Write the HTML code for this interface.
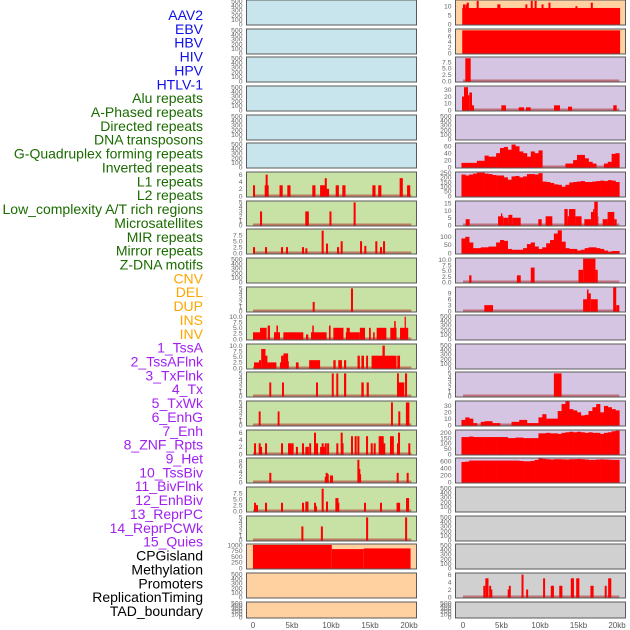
<!DOCTYPE html>
<html><head><meta charset="utf-8"><style>
html,body{margin:0;padding:0;background:#fff;}
svg{display:block;font-family:"Liberation Sans",sans-serif;}
</style></head><body>
<svg id="chart" width="630" height="630" viewBox="0 0 630 630"></svg>
<script>
// ---------- legend labels ----------
const legendLabels = ["AAV2","EBV","HBV","HIV","HPV","HTLV-1","Alu repeats","A-Phased repeats","Directed repeats","DNA transposons","G-Quadruplex forming repeats","Inverted repeats","L1 repeats","L2 repeats","Low_complexity A/T rich regions","Microsatellites","MIR repeats","Mirror repeats","Z-DNA motifs","CNV","DEL","DUP","INS","INV","1_TssA","2_TssAFlnk","3_TxFlnk","4_Tx","5_TxWk","6_EnhG","7_Enh","8_ZNF_Rpts","9_Het","10_TssBiv","11_BivFlnk","12_EnhBiv","13_ReprPC","14_ReprPCWk","15_Quies","CPGisland","Methylation","Promoters","ReplicationTiming","TAD_boundary"];
const legendGroups = [6,13,5,15,5];
const xTicks = [0,5,10,15,20];
const xTickLabels = ["0","5kb","10kb","15kb","20kb"];

// ---------- left column data ----------
const L_L1 = [[0,3],[1.5,3],[1.62,6],[1.75,3],[3.4,3],[3.55,3],[4.4,3],[4.55,3],[7.6,3],[7.75,3],[8.6,3],[8.75,3],[8.9,3],[9.05,3],[9.2,5],[9.35,2],[9.5,2],[10.6,3],[10.75,3],[11.45,3],[11.6,3],[15.3,3],[15.45,3],[16.05,3],[16.2,3],[18.8,5],[18.95,5],[19.75,3],[19.9,3]];
const L_L2 = [[0.9,3],[6.7,3],[6.9,3],[9.8,3],[12.9,5]];
const L_LowCx = [[0,2.5],[1.54,2.5],[3.59,2.5],[4.23,2.5],[6.28,2.5],[6.71,2],[8.8,9.5],[9.36,4],[10.77,2.5],[11.24,5],[13.72,5],[14.27,3],[15.68,5],[16.28,2.5],[16.67,5]];
const L_MIR = [[7.65,2],[12.56,5]];
const L_Mirror = [[0,0.9,3],[0.9,1.75,5],[1.88,2.18,6],[2.69,3.46,3],[3.0,3.2,6],[3.89,6.45,3],[6.79,7.09,2],[7.44,9.44,3],[7.6,7.8,6],[9.74,9.95,6],[10.3,11.6,5],[11.9,13.7,3],[12.0,12.4,5],[13.7,14.36,5],[14.87,15.1,5],[15.4,15.6,3],[15.85,17.1,5],[17.6,18.4,5],[18.1,18.3,8],[18.85,19.9,5],[19.44,19.6,10]];
const L_TssA = [[0.13,0.9,2.5],[0.77,1.05,3.5],[1.05,1.6,8.5],[1.6,1.85,5.5],[1.85,3.0,2.5],[3.45,3.9,2.5],[3.6,3.9,5.5],[3.9,4.5,6.5],[4.5,4.6,3],[5.5,5.85,2.5],[7.2,8.6,3.5],[10.3,10.6,3.5],[10.93,11.4,3.5],[11.67,11.95,3.5],[13.4,13.7,5.5],[13.9,14.23,5.5],[14.5,14.75,5.5],[15.2,18.4,5.5],[16.6,16.9,10],[18.5,18.85,5.5]];
const L_TssAFlnk = [[2.09,2.34,3],[3.72,3.97,3],[8.08,8.33,3],[10.1,10.35,5],[10.68,10.93,5],[11.67,11.95,5],[13.89,14.2,3],[14.57,14.85,3],[18.46,18.7,5],[18.6,19.4,3],[19.49,19.75,5]];
const L_TxFlnk = [[0.73,0.98,3],[3.16,3.4,3],[17.69,17.94,5],[18.63,18.88,3],[19.6,20.05,5]];
const L_Tx = [[0.13,3],[0.73,3],[0.9,2],[1.54,3],[3.59,3],[4.49,3],[4.7,3],[4.95,3],[5.5,2],[6.28,3],[6.71,2],[6.9,2],[7.2,3],[7.82,6],[8.08,3],[8.6,2],[8.8,3],[9.0,2],[9.2,3],[9.5,3],[10.68,3],[11.24,6],[11.35,3],[12.56,5],[13.03,5],[13.38,5],[14.49,5],[15.09,3],[15.47,3],[16.11,5],[16.3,5],[16.5,5],[16.7,3],[17.56,5],[17.8,5],[18.46,3],[18.59,6],[19.91,3]];
const L_TxWk = [[2.09,3.5],[9.2,2],[9.32,3.5],[9.45,3],[9.87,2.5],[10.0,2.5],[13.38,8.5],[13.5,5],[13.6,3],[18.42,3.5],[19.7,3.5]];
const L_EnhG = [[0.13,3.5],[0.38,2.5],[1.54,3.5],[3.59,3.5],[6.28,3.5],[6.71,4],[6.85,4],[7.82,3.5],[7.95,2],[8.8,9.5],[9.36,4],[10.56,5.5],[10.7,5.5],[10.81,3.5],[14.23,3.5],[16.28,3.5],[18.4,3.5],[18.6,3.5],[19.62,5.5],[19.75,5.5]];
const L_Enh = [[6.2,3],[8.7,3],[14.5,5],[19.5,5]];
const L_CPG = [[0,10.1,1000],[10.1,14.2,820],[14.2,20.2,850]];

// ---------- right column data ----------
const R_AAV2_base = [[-0.1,20.4,9]];
const R_AAV2_spikes = [[0,11],[0.3,11],[0.5,12],[1.78,13],[4.46,11],[4.6,11],[8.1,11],[8.8,13],[9.3,13],[10.2,11],[11.1,12],[14.6,10],[16.6,12]];
const R_EBV = [[-0.1,20.4,8]];
const R_HBV = [[0.3,1.0,9]];
const R_HIV = [[-0.13,0.13,20],[0.13,0.65,34],[0.65,0.82,22],[0.82,1.17,26],[1.17,1.43,7],[4.98,5.58,7],[7.23,7.92,4],[8.18,8.79,4],[11.82,12.6,7],[13.64,14.16,5],[19.52,19.96,7]];
const R_HTLV = [12,12,12,12,18,18,33,30,30,40,55,58,50,65,60,45,40,30,45,40,48,0,0,0,0,0,0,10,10,20,35,35,25,15,10,0,0,10,15,38,40];
const R_L1 = [230,220,230,240,250,250,240,235,225,220,220,200,175,210,215,200,210,235,235,230,245,155,150,140,125,120,100,120,145,150,155,160,150,150,155,160,165,160,170,165,150];
const R_L2 = [[0.35,0.87,4],[4.55,5.24,6],[4.93,5.1,8],[5.24,5.89,5],[5.89,6.41,7],[6.41,7.49,5],[9.78,10.22,4],[10.73,11.6,6],[13.16,13.6,11],[13.6,13.77,6],[13.77,14.6,11],[14.6,15.4,6],[15.76,16.62,4],[16.62,17.05,9],[16.9,17.05,11],[17.05,17.5,16],[17.5,17.58,6],[18.14,18.78,4],[18.78,19.65,9],[19.65,19.96,4]];
const R_LowCx = [90,100,65,30,30,35,35,40,40,65,80,75,25,20,20,20,30,55,65,40,25,35,60,80,120,140,70,30,25,25,15,20,30,35,35,30,25,15,8,12,12];
const R_Micro = [[0.8,1.1,3],[7.0,7.5,3],[8.8,9.3,6.5],[15.0,15.6,5.5],[15.6,17.2,10.5],[17.2,17.5,5.5]];
const R_MIR = [[2.77,3.9,3],[15.6,16.3,6],[16.1,16.3,11],[16.3,16.6,9],[16.6,17.5,6],[19.5,19.9,12],[19.9,20.3,3]];
const R_DEL = [[11.8,12.8,5]];
const R_DUP = [8,12,10,3,0,5,6,6,3,3,0,0,0,5,5,8,8,3,3,3,12,17,10,10,10,22,33,37,25,23,20,15,16,22,28,33,20,30,28,25,23];
const R_INS = [160,160,165,160,160,160,160,160,160,160,160,160,150,150,155,155,150,150,150,150,195,195,200,195,195,190,200,205,210,205,210,205,200,205,200,200,190,200,205,215,220];
const R_INV = [580,590,620,620,620,620,620,620,620,620,620,620,620,620,620,610,600,600,610,640,680,670,660,650,660,660,655,650,660,660,665,660,650,640,640,650,655,650,645,640,640];
const R_Promoters = [[2.64,3],[2.9,5],[3.05,5],[3.4,3],[3.55,2],[5.8,2],[5.95,3],[7.6,6],[8.2,2],[10.4,5],[11.4,3],[11.55,3],[12.5,3],[12.65,3],[14.0,5],[14.15,5],[14.7,5],[14.85,5],[16.55,3],[16.7,3],[18.4,3],[18.85,5],[19.0,5]];

const T500 = [0,100,200,300,400,500];
const C = {blue:"rgb(200,228,236)",green:"rgb(200,225,165)",peach:"rgb(255,208,160)",lav:"rgb(213,197,226)",gray:"rgb(208,208,208)"};

const leftPanels = [
 ["blue",T500,520],["blue",T500,520],["blue",T500,520],["blue",T500,520],["blue",T500,520],["blue",T500,520],
 ["green",[0,2,4,6],6.6,L_L1,null,null,1],
 ["green",[0,1,2,3,4,5],5.2,L_L2,null,null,1],
 ["green",[0,2.5,5,7.5],10,L_LowCx,null,null,1],
 ["green",T500,520],
 ["green",[0,1,2,3,4,5],5.2,L_MIR,null,null,1],
 ["green",[0,2.5,5,7.5,10],10.5,null,L_Mirror,null,1],
 ["green",[0,2.5,5,7.5,10],10.5,null,L_TssA,null,1],
 ["green",[0,1,2,3,4,5],5.2,null,L_TssAFlnk,null,1],
 ["green",[0,1,2,3,4,5],5.2,null,L_TxFlnk,null,1],
 ["green",[0,2,4,6],6.6,L_Tx,null,null,1],
 ["green",[0,2,4,6,8],9,L_TxWk,null,null,1],
 ["green",[0,2.5,5,7.5],10,L_EnhG,null,null,1],
 ["green",[0,1,2,3,4,5],5.2,L_Enh,null,null,1],
 ["peach",[0,250,500,750,1000],1020,null,L_CPG],
 ["peach",T500,520],["peach",T500,520]
];
const rightPanels = [
 ["peach",[0,5,10],13.2,R_AAV2_spikes,R_AAV2_base],
 ["peach",[0,2,4,6,8],8.3,null,R_EBV],
 ["lav",[0,2.5,5,7.5],9.3,null,R_HBV,null,1],
 ["lav",[0,10,20,30],35,null,R_HIV,null,1],
 ["lav",T500,520],
 ["lav",[0,20,40,60],68,null,null,R_HTLV,1],
 ["lav",[0,50,100,150,200,250],252,null,null,R_L1],
 ["lav",[0,5,10,15],16.2,null,R_L2,null,1],
 ["lav",[0,50,100],145,null,null,R_LowCx,1],
 ["lav",[0,2.5,5,7.5,10],10.6,null,R_Micro,null,1],
 ["lav",[0,3,6,9],12,null,R_MIR,null,1],
 ["lav",T500,520],["lav",T500,520],
 ["lav",[0,1,2,3,4,5],5.2,null,R_DEL,null,1],
 ["lav",[0,10,20,30],37,null,null,R_DUP,1],
 ["lav",[0,50,100,150,200],222,null,null,R_INS],
 ["lav",[0,200,400,600],680,null,null,R_INV],
 ["gray",T500,520],["gray",T500,520],["gray",T500,520],
 ["gray",[0,2,4,6],6.3,R_Promoters,null,null,1],
 ["gray",T500,520]
];

const NS="http://www.w3.org/2000/svg";
const svg=document.getElementById('chart');
function mk(tag,attrs,parent){const e=document.createElementNS(NS,tag);for(const k in attrs)e.setAttribute(k,attrs[k]);(parent||svg).appendChild(e);return e;}

const groupColors=["#1010e8","#1a6b00","#ffa500","#a020f0","#000000"];
let gi=0,gc=0;
legendLabels.forEach((lab,i)=>{
  while(gc>=legendGroups[gi]){gi++;gc=0;}
  gc++;
  const t=mk('text',{x:203,y:15+i*13.86+5,'text-anchor':'end','font-size':14,fill:groupColors[gi]});
  t.textContent=lab;
  
  
});

function rowTop(i){return Math.round(i*28.65);}
function rowH(i){return i===21?16:25;}

function drawPanel(cfg,i,x0,x1,kb0,pxPerKb,col){
  const [bg,ticks,ymax,spikes,blocks,bins,baseline]=cfg;
  const top=rowTop(i),h=rowH(i),bot=top+h;
  const g=mk('g',{});
  
  
  const r=mk('rect',{x:x0,y:top,width:x1-x0,height:h,fill:C[bg],stroke:'#5a5a5a','stroke-width':1},g);
  
  
  const xs=kb=>kb0+kb*pxPerKb;
  const ys=v=>bot-1-(v/ymax)*(h-1.5);
  const dec=ticks.some(tv=>tv%1!==0);
  ticks.forEach(tv=>{
    const t=mk('text',{x:x0-4,y:ys(tv)+2.3,'text-anchor':'end','font-size':6.8,fill:'#666'},g);
    t.textContent=dec?tv.toFixed(1):String(tv);
    
    
  });
  if(baseline){
    const b=mk('rect',{x:xs(0),y:bot-2.5,width:xs(20.3)-xs(0),height:2,fill:'rgba(175,40,40,0.55)'},g);
    
    
  }
  if(bins){
    bins.forEach((v,k)=>{
      if(v<=0)return;
      const s=k*0.5-0.2,e=Math.min(k*0.5+0.3,20.4);
      const b=mk('rect',{x:xs(s),y:ys(v),width:xs(e)-xs(s)+0.3,height:bot-ys(v),fill:'#ff0000'},g);
      
      
    });
  }
  if(blocks){
    blocks.forEach(d=>{
      const b=mk('rect',{x:xs(d[0]),y:ys(d[2]),width:xs(d[1])-xs(d[0]),height:bot-ys(d[2]),fill:'#ff0000'},g);
      
      
    });
  }
  if(spikes){
    spikes.forEach(d=>{
      const b=mk('rect',{x:xs(d[0]),y:ys(d[1]),width:0.26*pxPerKb,height:bot-ys(d[1]),fill:'#ff0000'},g);
      
      
    });
  }
  mk('rect',{x:x0,y:top,width:x1-x0,height:h,fill:'none',stroke:'#5a5a5a','stroke-width':1},g);
}

leftPanels.forEach((c,i)=>drawPanel(c,i,246.5,416.5,253,7.8,'left'));
rightPanels.forEach((c,i)=>drawPanel(c,i,455.5,625.5,463,7.7,'right'));

[[253,7.8],[463,7.7]].forEach(([o,s],ci)=>{
  xTicks.forEach((tv,k)=>{
    const t=mk('text',{x:o+tv*s,y:628,'text-anchor':'middle','font-size':8,fill:'#555'});
    t.textContent=xTickLabels[k];
    
    
  });
});
</script>
</body></html>
